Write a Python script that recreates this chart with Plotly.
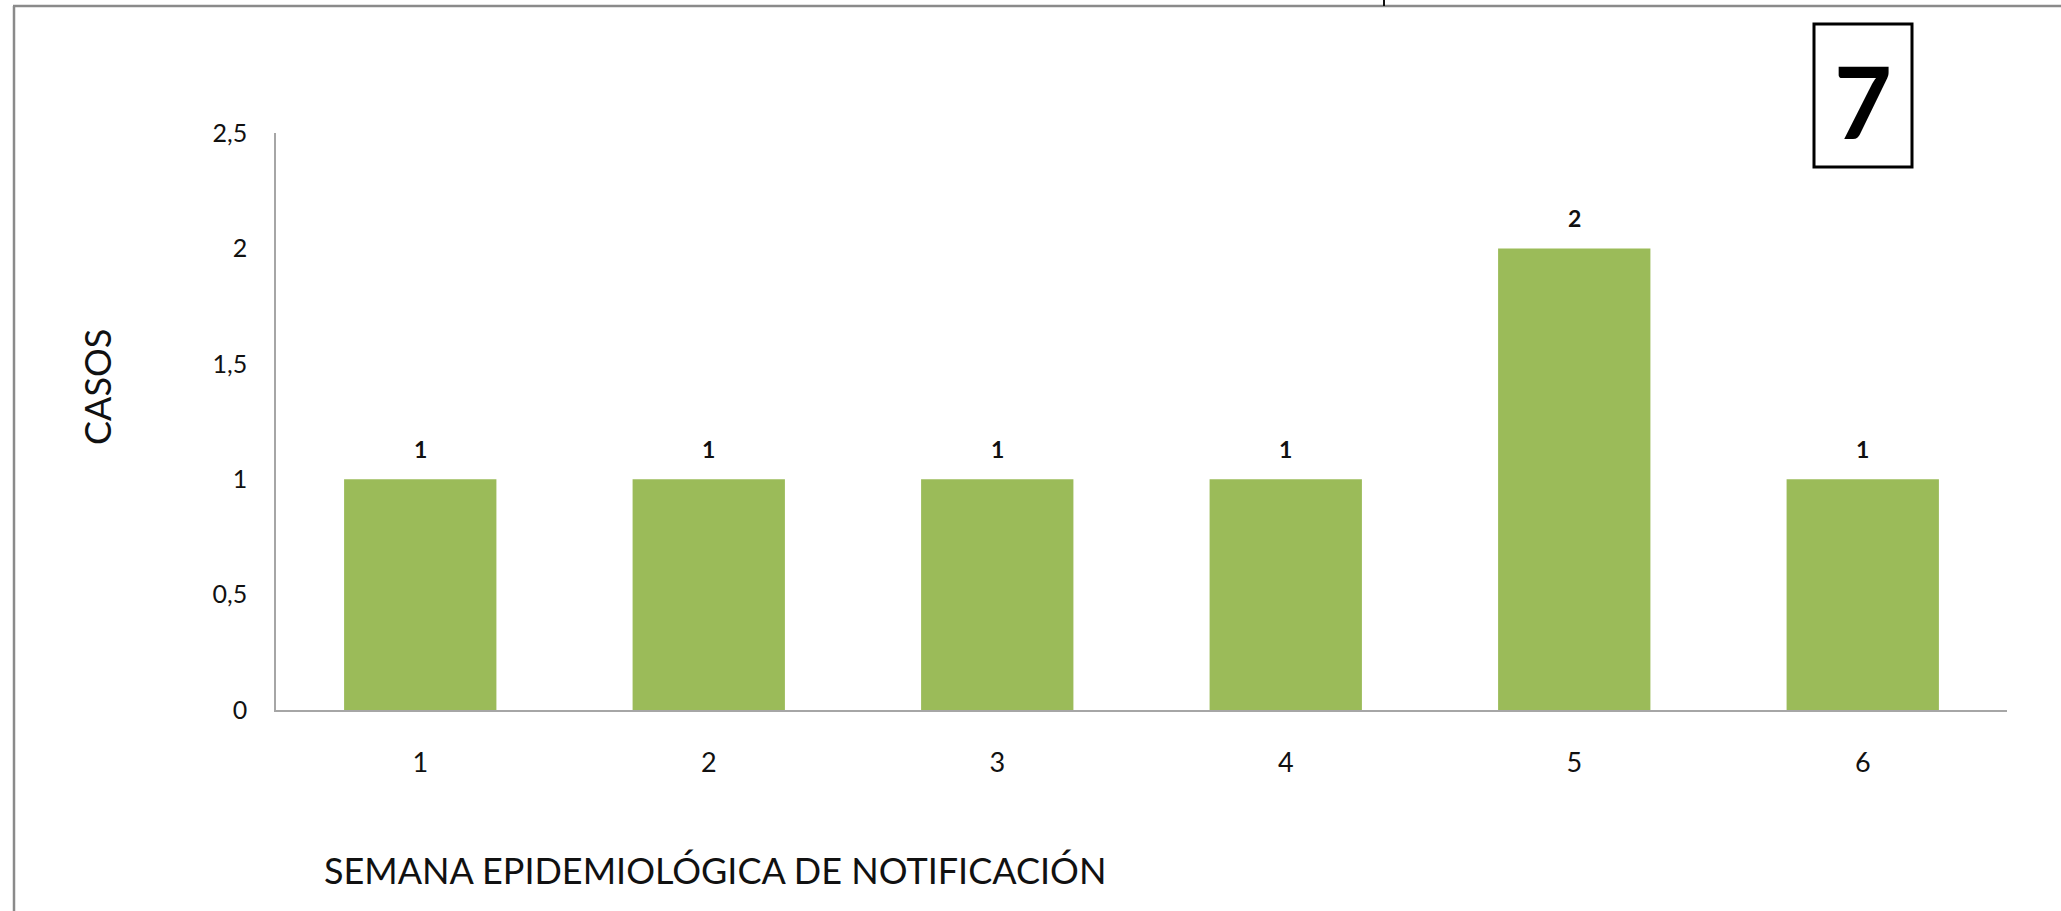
import plotly.graph_objects as go

# ---- data ----
weeks = [1, 2, 3, 4, 5, 6]
cases = [1, 1, 1, 1, 2, 1]
y_ticks = [0, 0.5, 1, 1.5, 2, 2.5]
y_title = "CASOS"
x_title = "SEMANA EPIDEMIOLÓGICA DE NOTIFICACIÓN"
badge = "7"

W, H = 2061, 911
L, R, T, B = 276, 2007, 133, 710  # plot area in pixels

def px(x):
    return (x - L) / (R - L)

def py(y):
    return (B - y) / (B - T)

FONT = "Lato, Carlito, Calibri, sans-serif"
BAR = "#9BBB59"
AXIS = "#a6a6a6"
FRAME = "#8a8a8a"

fig = go.Figure()
fig.add_trace(go.Bar(
    x=weeks, y=cases, marker=dict(color=BAR, line=dict(width=0)),
    width=0.528, hoverinfo="skip", showlegend=False,
))

annotations = []
for w, c in zip(weeks, cases):
    annotations.append(dict(
        x=w, y=c, xref="x", yref="y", text=f"<b>{c}</b>", showarrow=False,
        yanchor="middle", yshift=30,
        font=dict(family=FONT, size=23, color="#111"),
    ))

annotations.append(dict(
    x=px(97), y=py(387), xref="paper", yref="paper", text=y_title,
    textangle=-90, showarrow=False, xanchor="center", yanchor="middle",
    font=dict(family=FONT, size=36, color="#111"),
))
annotations.append(dict(
    x=px(322), y=py(870), xref="paper", yref="paper", text=x_title,
    showarrow=False, xanchor="left", yanchor="middle",
    font=dict(family=FONT, size=36, color="#111"),
))
annotations.append(dict(
    x=px(1863), y=py(100), xref="paper", yref="paper", text=f"<b>{badge}</b>",
    showarrow=False, xanchor="center", yanchor="middle",
    font=dict(family=FONT, size=100, color="#000"),
))

shapes = [
    # outer frame (left and top)
    dict(type="line", xref="paper", yref="paper", x0=px(14), x1=px(14), y0=py(6), y1=py(912),
         line=dict(color=FRAME, width=2.5)),
    dict(type="line", xref="paper", yref="paper", x0=px(13), x1=px(2062), y0=py(6), y1=py(6),
         line=dict(color=FRAME, width=2.5)),
    # small tick at top
    dict(type="line", xref="paper", yref="paper", x0=px(1384), x1=px(1384), y0=py(-1), y1=py(6),
         line=dict(color="#111", width=2)),
    # badge box
    dict(type="rect", xref="paper", yref="paper", x0=px(1814), x1=px(1912), y0=py(167), y1=py(24),
         line=dict(color="#000", width=3), fillcolor="rgba(0,0,0,0)"),
]

fig.update_layout(
    width=W, height=H,
    margin=dict(l=L, r=W - R, t=T, b=H - B, pad=0),
    paper_bgcolor="white", plot_bgcolor="white",
    separators=",.",
    bargap=0.47,
    annotations=annotations,
    shapes=shapes,
    xaxis=dict(
        range=[0.5, 6.5], tickmode="array", tickvals=weeks, ticktext=[str(w) for w in weeks],
        showgrid=False, zeroline=False, showline=True, linecolor=AXIS, linewidth=2,
        ticks="", ticklabelstandoff=28,
        tickfont=dict(family=FONT, size=27, color="#111"), fixedrange=True,
    ),
    yaxis=dict(
        range=[0, 2.5], tickmode="array", tickvals=y_ticks,
        ticktext=[str(v).replace(".", ",") if v != int(v) else str(int(v)) for v in y_ticks],
        showgrid=False, zeroline=False, showline=True, linecolor=AXIS, linewidth=1.5,
        ticks="", ticklabelstandoff=22,
        tickfont=dict(family=FONT, size=25, color="#111"), fixedrange=True,
    ),
)

fig.write_html("out.html", config={"displayModeBar": False},
               post_script="document.body.style.margin='0';document.body.style.overflow='hidden';")
